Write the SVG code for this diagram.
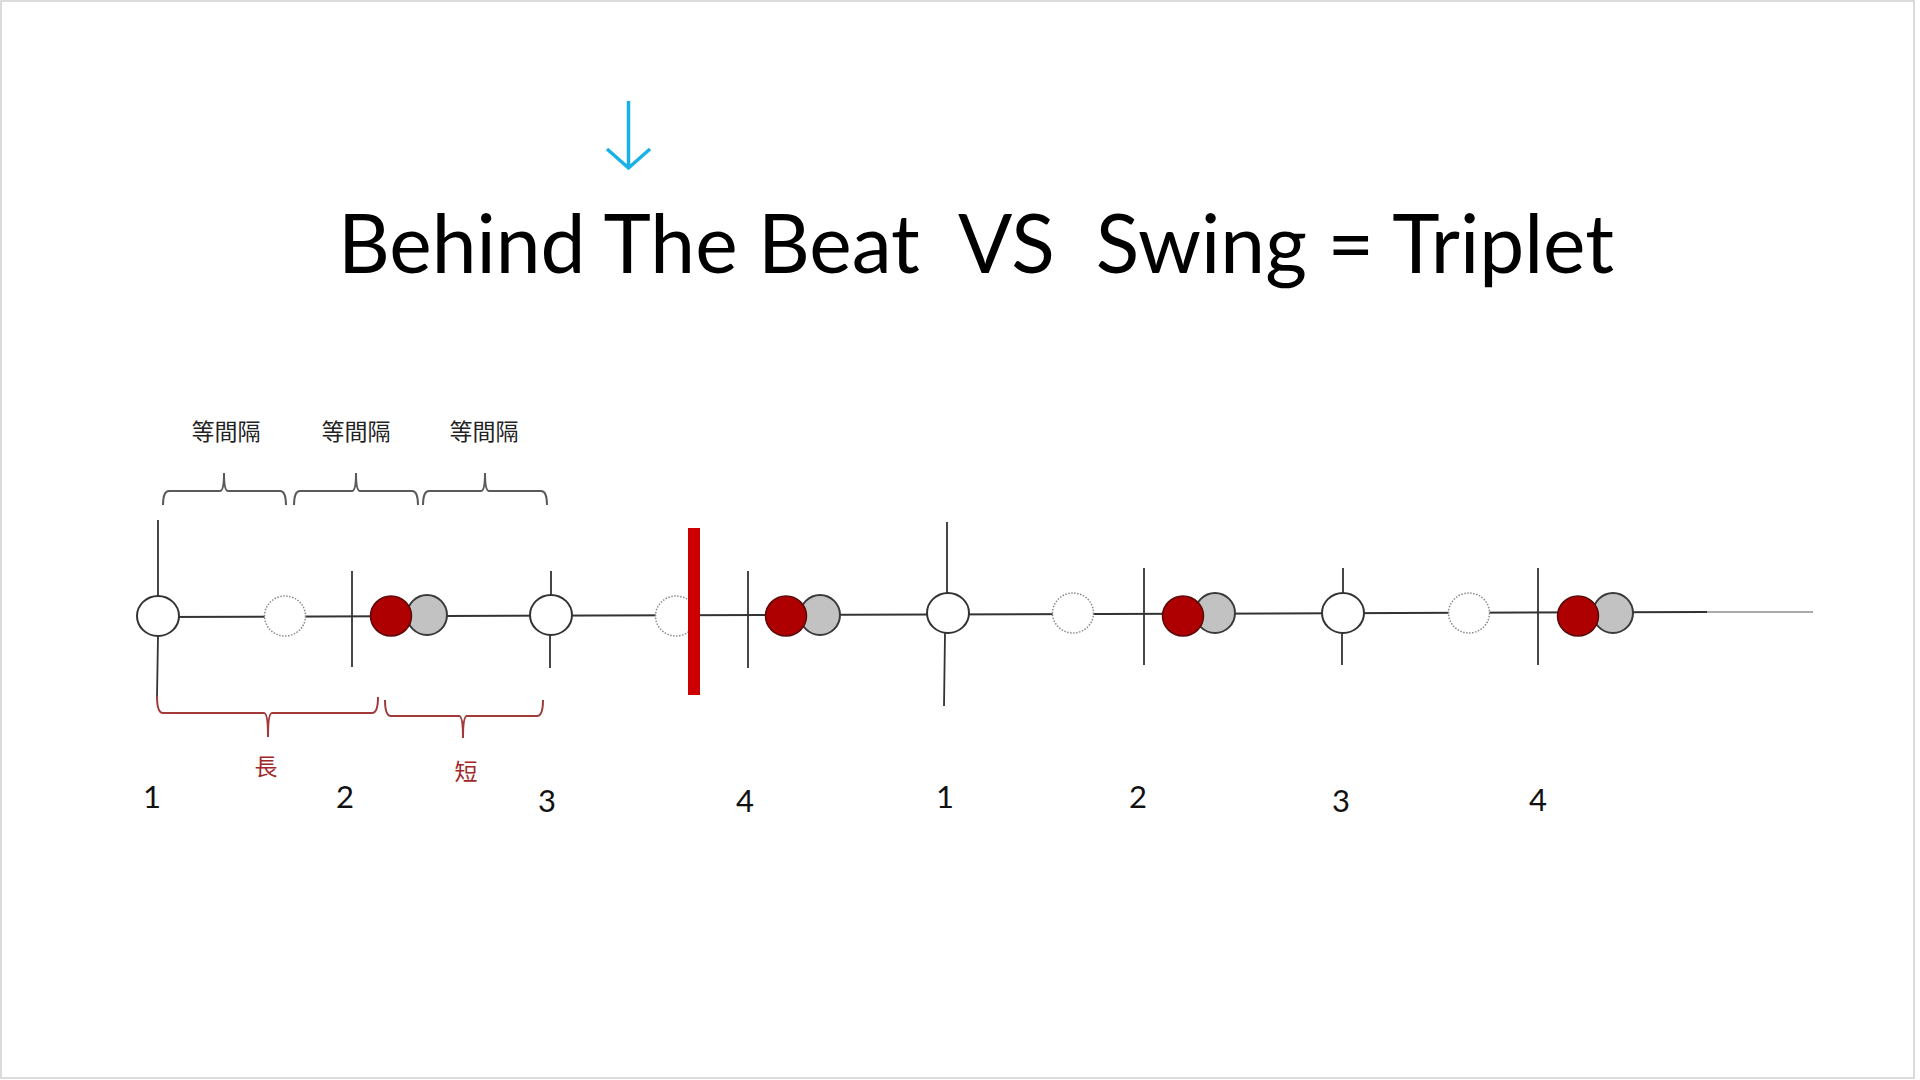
<svg xmlns="http://www.w3.org/2000/svg" width="1920" height="1080" viewBox="0 0 1920 1080">
<style>
.title{font-family:Lato,"Open Sans","Liberation Sans",sans-serif;font-size:81px;fill:#000;white-space:pre}
.num{font-family:Lato,"Open Sans","Liberation Sans",sans-serif;font-size:31px;fill:#111;text-anchor:middle}
.cjk{font-family:"Noto Sans CJK TC","Noto Sans CJK SC",sans-serif;font-size:23px;fill:#222;text-anchor:middle}
.cjkr{font-family:"Noto Sans CJK TC","Noto Sans CJK SC",sans-serif;font-size:23px;fill:#A0282B;text-anchor:middle}
.tick{stroke:#333;stroke-width:1.8;fill:none}
.base{stroke:#333;stroke-width:2;fill:none}
.beat{fill:#fff;stroke:#333;stroke-width:2}
.ghost{fill:#fff;stroke:#8a8a8a;stroke-width:1.5;stroke-dasharray:1.5 1.5}
.hit{fill:#AE0000;stroke:#5a0a0a;stroke-width:1.5}
.grey{fill:#C2C2C2;stroke:#3a3a3a;stroke-width:2}
.brace{stroke:#5a5a5a;stroke-width:2;fill:none}
.rbrace{stroke:#A33A3A;stroke-width:2;fill:none}
</style>
<rect x="0" y="0" width="1920" height="1080" fill="#fff"/>
<rect x="1" y="1" width="1913" height="1077" fill="none" stroke="#d0d0d0" stroke-width="1.5"/>

<g id="arrow">
<path d="M628.5 101 L628.5 167 M607 149 L628.5 168 L650 149" stroke="#1AB2E6" stroke-width="3.5" fill="none"/>
</g>

<g id="title">
<text class="title" xml:space="preserve" x="338" y="273" textLength="1276" lengthAdjust="spacingAndGlyphs">Behind The Beat  VS  Swing = Triplet</text>
</g>

<g id="connectors">
<path class="base" d="M158 617 L1707 612"/>
<path d="M1707 612 L1813 612" stroke="#aaa" stroke-width="2"/>
<path class="tick" d="M158 520 L158 596 M158 636 L157 697"/>
<path class="tick" d="M352 571 L352 667"/>
<path class="tick" d="M551 571 L551 595 M550 635 L550 668"/>
<path class="tick" d="M748 571 L748 668"/>
<path class="tick" d="M947 522 L947 593 M945 633 L944 706"/>
<path class="tick" d="M1144 568 L1144 665"/>
<path class="tick" d="M1343 568 L1343 593 M1342 633 L1342 665"/>
<path class="tick" d="M1538 568 L1538 665"/>
</g>

<g id="braces-top">
<path class="brace" d="M163 505 Q163 491 169 491 L220 491 Q224 491 224 473 Q224 491 228 491 L280 491 Q286 491 286 505"/>
<path class="brace" d="M294 505 Q294 491 300 491 L352 491 Q356 491 356 473 Q356 491 360 491 L412 491 Q418 491 418 505"/>
<path class="brace" d="M423 505 Q423 491 429 491 L481 491 Q485 491 485 473 Q485 491 489 491 L541 491 Q547 491 547 505"/>
<text class="cjk" x="226" y="440">等間隔</text>
<text class="cjk" x="356" y="440">等間隔</text>
<text class="cjk" x="484" y="440">等間隔</text>
</g>

<g id="braces-bottom">
<path class="rbrace" d="M157 696 Q157 713 163 713 L264 713 Q268 713 268 737 Q268 713 272 713 L372 713 Q378 713 378 697"/>
<path class="rbrace" d="M385 700 Q385 716 391 716 L459 716 Q463 716 463 738 Q463 716 467 716 L537 716 Q543 716 543 700"/>
<text class="cjkr" x="266" y="775">長</text>
<text class="cjkr" x="466" y="780">短</text>
</g>

<g id="measure1">
<ellipse class="beat" cx="158" cy="616" rx="21" ry="20"/>
<ellipse class="ghost" cx="285" cy="616" rx="20.5" ry="20"/>
<ellipse class="grey" cx="427" cy="615" rx="20" ry="20"/>
<ellipse class="hit" cx="391" cy="616" rx="20.5" ry="20"/>
<ellipse class="beat" cx="551" cy="615" rx="21" ry="20"/>
<ellipse class="ghost" cx="676" cy="616" rx="20.5" ry="20"/>
<ellipse class="grey" cx="820" cy="615" rx="20" ry="20"/>
<ellipse class="hit" cx="786" cy="616" rx="20.5" ry="20"/>
</g>

<g id="red-bar">
<rect x="688" y="528" width="12" height="167" fill="#CC0000"/>
</g>

<g id="measure2">
<ellipse class="beat" cx="948" cy="613" rx="21" ry="20"/>
<ellipse class="ghost" cx="1073" cy="613" rx="20.5" ry="20"/>
<ellipse class="grey" cx="1215" cy="613" rx="20" ry="20"/>
<ellipse class="hit" cx="1183" cy="616" rx="20.5" ry="20"/>
<ellipse class="beat" cx="1343" cy="613" rx="21" ry="20"/>
<ellipse class="ghost" cx="1469" cy="613" rx="20.5" ry="20"/>
<ellipse class="grey" cx="1613" cy="613" rx="20" ry="20"/>
<ellipse class="hit" cx="1578" cy="616" rx="20.5" ry="20"/>
</g>

<g id="beat-numbers">
<text class="num" x="152" y="808">1</text>
<text class="num" x="345" y="808">2</text>
<text class="num" x="547" y="812">3</text>
<text class="num" x="745" y="812">4</text>
<text class="num" x="945" y="808">1</text>
<text class="num" x="1138" y="808">2</text>
<text class="num" x="1341" y="812">3</text>
<text class="num" x="1538" y="811">4</text>
</g>
</svg>
